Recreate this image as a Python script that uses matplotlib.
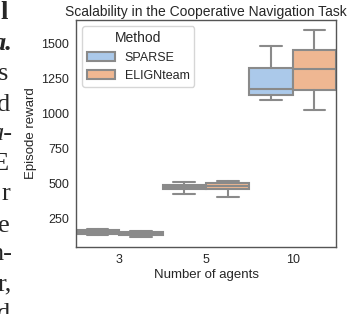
import matplotlib
matplotlib.use("Agg")
import matplotlib.pyplot as plt
from matplotlib.patches import Patch
import seaborn as sns

# values (whisker low, Q1, median, Q3, whisker high)
agents = ["3", "5", "10"]
methods = ["SPARSE", "ELIGNteam"]
sparse_lo = [132, 425, 1094]
sparse_q1 = [142, 458, 1134]
sparse_med = [152, 478, 1176]
sparse_q3 = [165, 493, 1322]
sparse_hi = [175, 512, 1479]
elign_lo = [120, 407, 1021]
elign_q1 = [132, 458, 1169]
elign_med = [145, 485, 1315]
elign_q3 = [157, 505, 1451]
elign_hi = [163, 519, 1592]

# bits of the paper text cut off on the left of the figure
side_text = ["l", "a.", "s", "d", "a-", "E", "r", "e", "n-", "r,", "d"]

sns.set_style("white")
plt.rcParams["font.family"] = ["Liberation Sans", "DejaVu Sans"]

pal = sns.color_palette("pastel")
colors = [sns.desaturate(pal[0], 0.75), sns.desaturate(pal[1], 0.75)]
gray = "#8a8a8a"

fig = plt.figure(figsize=(3.48, 3.14), dpi=100)
ax = fig.add_axes([0.218, 0.213, 0.748, 0.723])

groups = [
    (sparse_lo, sparse_q1, sparse_med, sparse_q3, sparse_hi),
    (elign_lo, elign_q1, elign_med, elign_q3, elign_hi),
]
offsets = [-0.25, 0.25]
for k, (lo, q1, med, q3, hi) in enumerate(groups):
    stats = []
    for i in range(len(agents)):
        stats.append(dict(whislo=lo[i], q1=q1[i], med=med[i], q3=q3[i],
                          whishi=hi[i], fliers=[]))
    pos = [i + offsets[k] for i in range(len(agents))]
    ax.bxp(stats, positions=pos, widths=0.5, patch_artist=True,
           showfliers=False, manage_ticks=False,
           boxprops=dict(facecolor=colors[k], edgecolor=gray, linewidth=1.5),
           medianprops=dict(color=gray, linewidth=1.5),
           whiskerprops=dict(color=gray, linewidth=1.5),
           capprops=dict(color=gray, linewidth=1.5))

ax.set_xlim(-0.5, 2.5)
ax.set_xticks(range(len(agents)))
ax.set_xticklabels(agents)
ax.set_yticks([250, 500, 750, 1000, 1250, 1500])
ax.tick_params(labelsize=9, length=0, pad=5)
for s in ax.spines.values():
    s.set_color("#555555")
    s.set_linewidth(1.0)

ax.set_xlabel("Number of agents", fontsize=9.5, labelpad=2)
ax.set_ylabel("Episode reward", fontsize=9.5, labelpad=3)
ax.set_title("Scalability in the Cooperative Navigation Task", fontsize=10, pad=3)

handles = [Patch(facecolor=colors[k], edgecolor=gray, linewidth=1.5) for k in range(2)]
ax.legend(handles, methods, title="Method", loc="upper left", fontsize=9,
          title_fontsize=10, frameon=True, handlelength=2.2)

ys = [19, 50, 80, 111, 140, 170, 200, 232, 260, 290, 320]
xs = [8, 13, 8, 10, 12, 8, 10, 10, 12, 12, 10]
for i, t in enumerate(side_text):
    style = "italic" if t in ("a.", "a-") else "normal"
    weight = "bold" if t in ("l", "a.") else "normal"
    fig.text(xs[i] / 348, 1 - ys[i] / 314, t, ha="right", va="baseline",
             fontsize=19, family="Liberation Serif", style=style, weight=weight)

fig.savefig("out.png", dpi=100)
